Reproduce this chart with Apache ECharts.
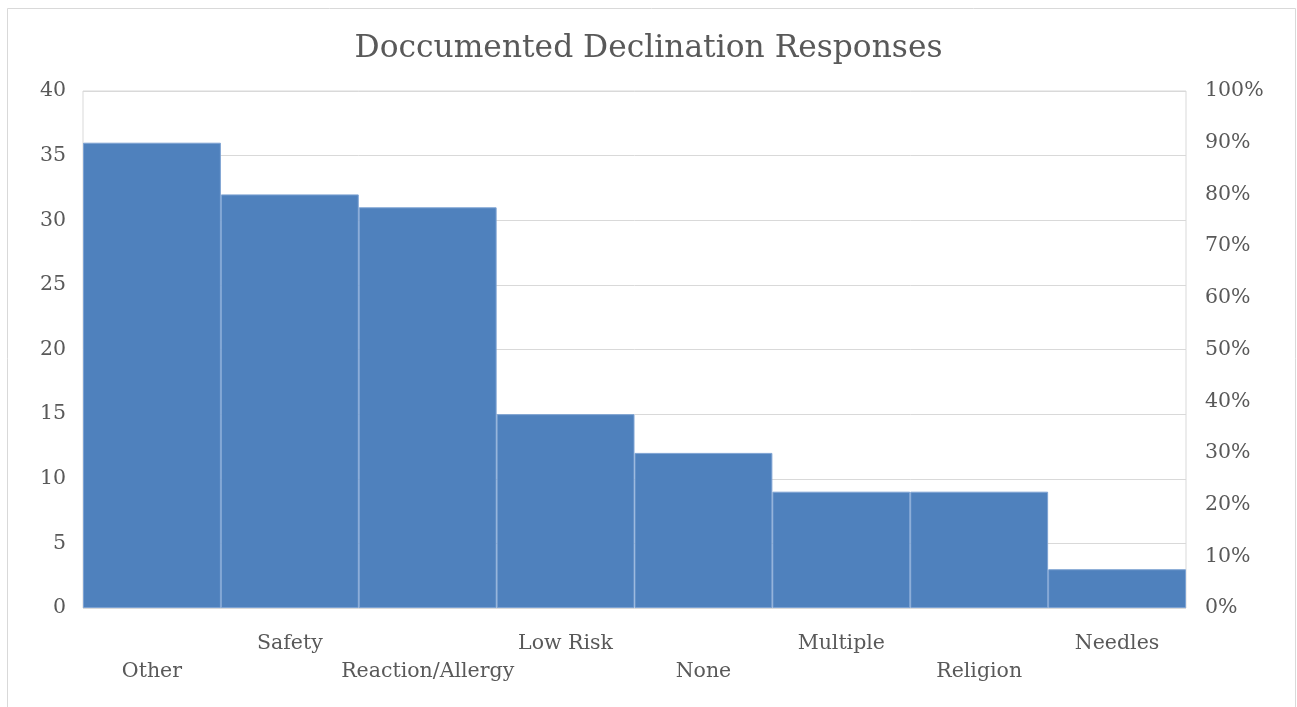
<!DOCTYPE html>
<html>
<head>
<meta charset="utf-8">
<script src="https://cdn.jsdelivr.net/npm/echarts@6/dist/echarts.min.js"></script>
<style>
  html, body { margin: 0; padding: 0; background: #ffffff; }
  #chart { width: 1297px; height: 707px; }
</style>
</head>
<body>
<div id="chart"></div>
<script>
// Reasons recorded for declining, with the number of responses for each
const categories = ['Other', 'Safety', 'Reaction/Allergy', 'Low Risk', 'None', 'Multiple', 'Religion', 'Needles'];
const counts = [36, 32, 31, 15, 12, 9, 9, 3];
const countTicks = [0, 5, 10, 15, 20, 25, 30, 35, 40];
const percentTicks = [0, 10, 20, 30, 40, 50, 60, 70, 80, 90, 100];

const textColor = '#595959';
const fontFamily = '"DejaVu Serif", "Liberation Serif", serif';

const chart = echarts.init(document.getElementById('chart'), null, { renderer: 'canvas' });

chart.setOption({
  animation: false,
  backgroundColor: '#ffffff',
  title: {
    text: 'Doccumented Declination Responses',
    left: 'center',
    top: 28,
    textStyle: { fontFamily: fontFamily, fontSize: 31.3, fontWeight: 'normal', color: textColor }
  },
  graphic: [{
    type: 'rect',
    shape: { x: 7.5, y: 8.5, width: 1288, height: 720 },
    style: { fill: null, stroke: '#d9d9d9', lineWidth: 1 },
    silent: true
  }],
  grid: { left: 83, right: 111, top: 91, bottom: 99, show: true, borderColor: '#d9d9d9', borderWidth: 1 },
  xAxis: {
    type: 'category',
    data: categories,
    axisLine: { show: false },
    axisTick: { show: false },
    axisLabel: {
      interval: 0,
      margin: 22,
      color: textColor,
      fontFamily: fontFamily,
      fontSize: 20.5,
      lineHeight: 28,
      // alternate labels between two rows so the long names fit
      formatter: function (value, index) {
        return index % 2 === 0 ? '\n' + value : value;
      }
    }
  },
  yAxis: [{
    type: 'value',
    min: countTicks[0],
    max: countTicks[countTicks.length - 1],
    interval: countTicks[1] - countTicks[0],
    axisLine: { show: false },
    axisTick: { show: false },
    splitLine: { lineStyle: { color: '#d9d9d9', width: 1 } },
    axisLabel: { color: textColor, fontFamily: fontFamily, fontSize: 20.5, margin: 17, padding: [7, 0, 0, 0] }
  }, {
    type: 'value',
    position: 'right',
    min: percentTicks[0],
    max: percentTicks[percentTicks.length - 1],
    interval: percentTicks[1] - percentTicks[0],
    axisLine: { show: false },
    axisTick: { show: false },
    splitLine: { show: false },
    axisLabel: { color: textColor, fontFamily: fontFamily, fontSize: 20.5, margin: 19, padding: [7, 0, 0, 0], formatter: '{value}%' }
  }],
  series: [{
    type: 'bar',
    data: counts,
    yAxisIndex: 0,
    barWidth: '100%',
    barCategoryGap: 0,
    itemStyle: { color: '#4f81bd', borderColor: '#7ea3d3', borderWidth: 1 }
  }]
});
</script>
</body>
</html>
